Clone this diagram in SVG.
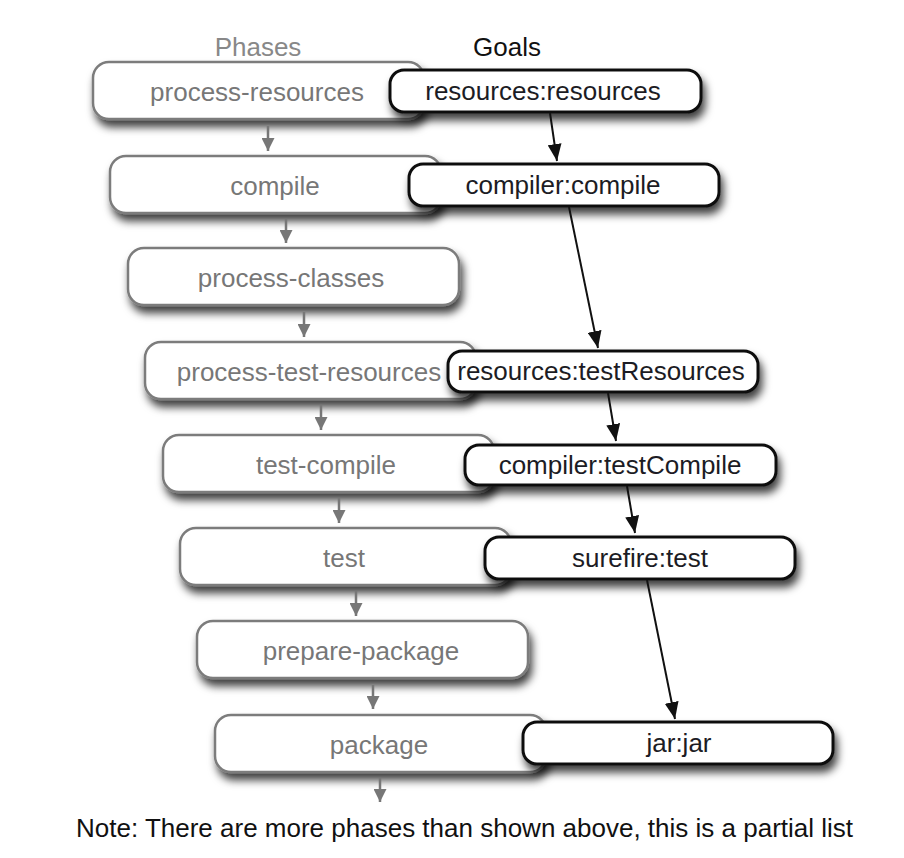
<svg xmlns="http://www.w3.org/2000/svg" width="904" height="858" viewBox="0 0 904 858">
<style>
.bg{fill:#fff}
.phase rect{fill:#fff;stroke:#7c7c7c;stroke-width:2.5;filter:url(#sh)}
.goal rect{fill:#fff;stroke:#111;stroke-width:3;filter:url(#sh)}
text{font-family:"Liberation Sans",Arial,Helvetica,sans-serif;font-size:26px}
.phase text{fill:#777;text-anchor:middle}
.goal text{fill:#1c1c24;text-anchor:middle}
.hdr{text-anchor:middle}
.garrow{stroke:#777;stroke-width:2.5;marker-end:url(#ga)}
.barrow{stroke:#111;stroke-width:2;marker-end:url(#ba)}
</style>
<defs>
<filter id="sh" x="-10%" y="-30%" width="125%" height="190%">
<feDropShadow dx="3" dy="7" stdDeviation="4.5" flood-color="#000" flood-opacity="0.75"/>
</filter>
<marker id="ga" markerUnits="userSpaceOnUse" markerWidth="13" markerHeight="13" refX="13" refY="6.5" orient="auto">
<path d="M0,0 L13,6.5 L0,13 z" fill="#777"/>
</marker>
<marker id="ba" markerUnits="userSpaceOnUse" markerWidth="17" markerHeight="14" refX="17" refY="7" orient="auto">
<path d="M0,0 L17,7 L0,14 z" fill="#111"/>
</marker>
</defs>
<rect class="bg" x="0" y="0" width="904" height="858"/>
<text class="hdr" x="258" y="56" fill="#888">Phases</text>
<text class="hdr" x="507" y="56" fill="#111">Goals</text>

<g id="phase-process-resources" class="phase"><rect x="93" y="62" width="331" height="57" rx="16"/><text x="257" y="101">process-resources</text></g>
<g id="phase-compile" class="phase"><rect x="110" y="156" width="331" height="57" rx="16"/><text x="275" y="195">compile</text></g>
<g id="phase-process-classes" class="phase"><rect x="128" y="248" width="331" height="57" rx="16"/><text x="291" y="287">process-classes</text></g>
<g id="phase-process-test-resources" class="phase"><rect x="145" y="342" width="331" height="57" rx="16"/><text x="309" y="381">process-test-resources</text></g>
<g id="phase-test-compile" class="phase"><rect x="163" y="435" width="331" height="57" rx="16"/><text x="326" y="474">test-compile</text></g>
<g id="phase-test" class="phase"><rect x="180" y="528" width="331" height="57" rx="16"/><text x="344" y="567">test</text></g>
<g id="phase-prepare-package" class="phase"><rect x="197" y="621" width="331" height="57" rx="16"/><text x="361" y="660">prepare-package</text></g>
<g id="phase-package" class="phase"><rect x="215" y="715" width="331" height="57" rx="16"/><text x="379" y="754">package</text></g>

<g id="goal-resources-resources" class="goal"><rect x="390" y="70" width="311" height="42" rx="14"/><text x="543" y="100">resources:resources</text></g>
<g id="goal-compiler-compile" class="goal"><rect x="409" y="164" width="310" height="42" rx="14"/><text x="563" y="194">compiler:compile</text></g>
<g id="goal-resources-testResources" class="goal"><rect x="448" y="351" width="310" height="41" rx="14"/><text x="601" y="380">resources:testResources</text></g>
<g id="goal-compiler-testCompile" class="goal"><rect x="465" y="445" width="311" height="40" rx="14"/><text x="620" y="474">compiler:testCompile</text></g>
<g id="goal-surefire-test" class="goal"><rect x="485" y="537" width="310" height="42" rx="14"/><text x="640" y="567">surefire:test</text></g>
<g id="goal-jar-jar" class="goal"><rect x="523" y="722" width="310" height="42" rx="14"/><text x="679" y="752">jar:jar</text></g>

<g id="connectors">
<line class="garrow" x1="268" y1="126" x2="268" y2="151"/>
<line class="garrow" x1="286" y1="219" x2="286" y2="243"/>
<line class="garrow" x1="304" y1="312" x2="304" y2="337"/>
<line class="garrow" x1="321" y1="405" x2="321" y2="430"/>
<line class="garrow" x1="339" y1="498" x2="339" y2="523"/>
<line class="garrow" x1="356" y1="591" x2="356" y2="616"/>
<line class="garrow" x1="373" y1="685" x2="373" y2="709"/>
<line class="garrow" x1="380" y1="778" x2="380" y2="802"/>
<line class="barrow" x1="550" y1="113" x2="557" y2="161"/>
<line class="barrow" x1="569" y1="207" x2="598" y2="348"/>
<line class="barrow" x1="608" y1="393" x2="616" y2="441"/>
<line class="barrow" x1="627" y1="486" x2="635" y2="533"/>
<line class="barrow" x1="647" y1="580" x2="675" y2="719"/>
</g>

<text x="76" y="837" fill="#111">Note: There are more phases than shown above, this is a partial list</text>
</svg>
